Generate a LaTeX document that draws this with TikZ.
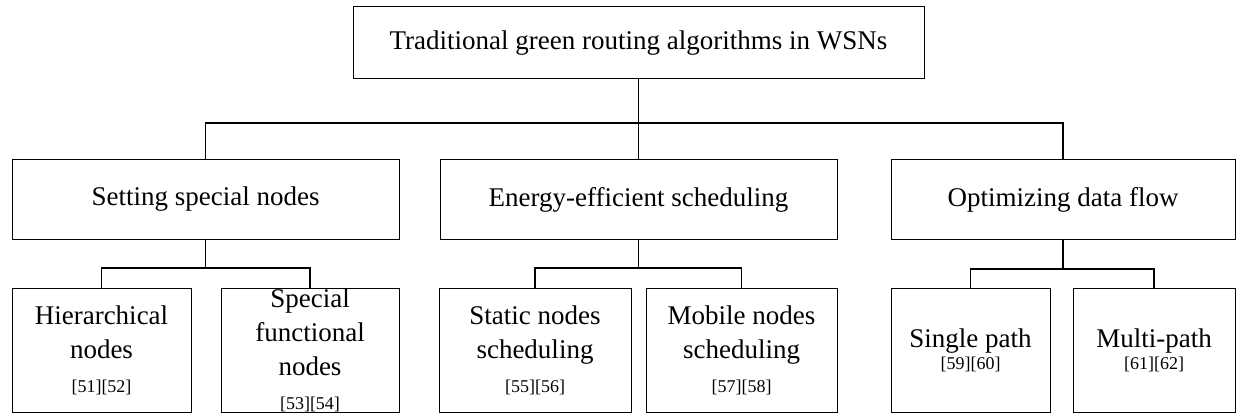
\documentclass[tikz,border=0pt]{standalone}
\usepackage{fontspec}
\setmainfont{Liberation Serif}
\newcommand{\citesz}{\fontsize{18}{22}\selectfont}
\tikzset{
  box/.style={draw, line width=1pt, rectangle, inner sep=0pt, align=center,
    font=\fontsize{27}{34}\selectfont},
  conn/.style={line width=1.6pt},
}
\begin{document}
\begin{tikzpicture}[x=1pt,y=-1pt]
\useasboundingbox (0,0) rectangle (1236,414);
% top
\node[box, minimum width=571pt, minimum height=72pt] (top) at (638.5,43) {Traditional green routing algorithms in WSNs};
% level 2
\node[box, minimum width=387pt, minimum height=79pt] (A) at (205.5,199.5) {Setting special nodes};
\node[box, minimum width=397pt, minimum height=79pt] (B) at (638.5,199.5) {Energy-efficient scheduling};
\node[box, minimum width=344pt, minimum height=79pt] (C) at (1063,199.5) {Optimizing data flow};
% level 3
\node[box, minimum width=179pt, minimum height=124pt] (A1) at (101.5,350) {Hierarchical\\nodes\\{\citesz [51][52]}};
\node[box, minimum width=178pt, minimum height=124pt] (A2) at (310,350) {Special\\functional\\nodes\\{\citesz [53][54]}};
\node[box, minimum width=192pt, minimum height=124pt] (B1) at (535,350) {Static nodes\\scheduling\\{\citesz [55][56]}};
\node[box, minimum width=191pt, minimum height=124pt] (B2) at (741.5,350) {Mobile nodes\\scheduling\\{\citesz [57][58]}};
\node[box, minimum width=159pt, minimum height=124pt] (C1) at (970.5,350) {Single path\\[-12pt]{\citesz [59][60]}};
\node[box, minimum width=162pt, minimum height=124pt] (C2) at (1154,350) {Multi-path\\[-12pt]{\citesz [61][62]}};
% connectors
\draw[conn] (top.south) -- (top.south |- 0,123);
\draw[conn] (A.north) -- (A.north |- 0,123) -- (C.north |- 0,123) -- (C.north);
\draw[conn] (B.north) -- (B.north |- 0,123);
\draw[conn] (A.south) -- (A.south |- 0,268);
\draw[conn] (A1.north) -- (A1.north |- 0,268) -- (A2.north |- 0,268) -- (A2.north);
\draw[conn] (B.south) -- (B.south |- 0,268);
\draw[conn] (B1.north) -- (B1.north |- 0,268) -- (B2.north |- 0,268) -- (B2.north);
\draw[conn] (C.south) -- (C.south |- 0,269);
\draw[conn] (C1.north) -- (C1.north |- 0,269) -- (C2.north |- 0,269) -- (C2.north);
\end{tikzpicture}
\end{document}
